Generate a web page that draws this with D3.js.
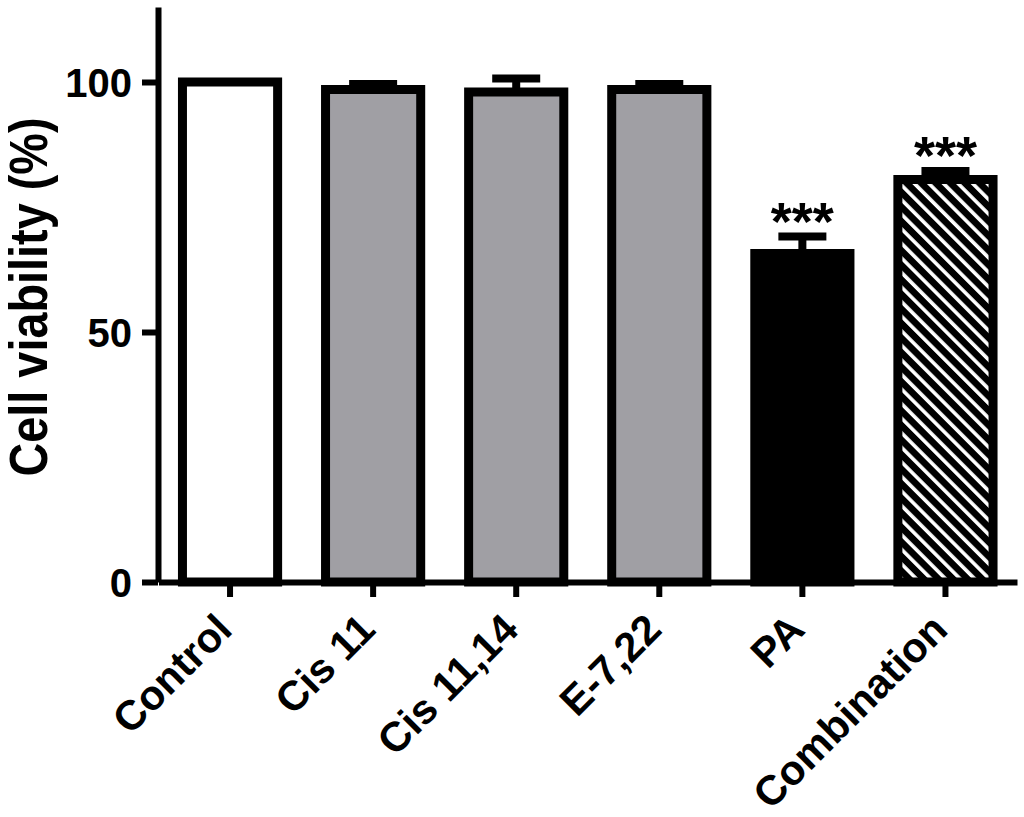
<!DOCTYPE html>
<html>
<head>
<meta charset="utf-8">
<script src="https://cdn.jsdelivr.net/npm/d3@7"></script>
<style>
  body { margin: 0; background: #fff; }
  text { font-family: Arial, "Liberation Sans", sans-serif; font-weight: bold; fill: #000; }
</style>
</head>
<body>
<div id="chart"></div>
<script>
'use strict';

// data
const categories = ["Control", "Cis 11", "Cis 11,14", "E-7,22", "PA", "Combination"];
const means = [100, 98.5, 98.0, 98.5, 65.7, 80.5];
const errors = [0, 1.1, 2.7, 1.1, 3.4, 1.7];
const stars = ["", "", "", "", "***", "***"];
const fills = ["white", "gray", "gray", "gray", "black", "hatch"];
const yTicks = [0, 50, 100];

const width = 1024, height = 817;
const barStroke = 9;

const svg = d3.select("#chart")
	.append("svg")
		.attr("width", width)
		.attr("height", height);

svg.append("rect")
	.attr("width", width)
	.attr("height", height)
	.attr("fill", "#fff");

// diagonal hatch for the combination bar
const defs = svg.append("defs");
const pat = defs.append("pattern")
	.attr("id", "hatch")
	.attr("patternUnits", "userSpaceOnUse")
	.attr("width", 10.3)
	.attr("height", 10.3)
	.attr("patternTransform", "rotate(-45)");
pat.append("rect")
	.attr("width", 10.3)
	.attr("height", 10.3)
	.attr("fill", "#000");
pat.append("rect")
	.attr("width", 3.6)
	.attr("height", 10.3)
	.attr("fill", "#fff");

const fillColor = {
	white: "#fff",
	gray: "#a09fa4",
	black: "#000",
	hatch: "url(#hatch)"
};

const x = d3.scaleBand()
	.domain(categories)
	.range([158.5, 1017])
	.paddingInner(0.272)
	.paddingOuter(0.136);

const y = d3.scaleLinear()
	.domain([0, 115])
	.range([582, 7]);

const rows = categories.map((c, i) => ({
	name: c, mean: means[i], err: errors[i], star: stars[i], fill: fills[i]
}));

// error bars (upper only)
const eb = svg.append("g");
const withErr = rows.filter(d => d.err > 0);
eb.selectAll("line.stem")
	.data(withErr)
	.join("line")
		.attr("class", "stem")
		.attr("x1", d => x(d.name) + x.bandwidth() / 2)
		.attr("x2", d => x(d.name) + x.bandwidth() / 2)
		.attr("y1", d => y(d.mean))
		.attr("y2", d => y(d.mean + d.err))
		.attr("stroke", "#000")
		.attr("stroke-width", 8);
eb.selectAll("line.cap")
	.data(withErr)
	.join("line")
		.attr("class", "cap")
		.attr("x1", d => x(d.name) + x.bandwidth() / 2 - 24)
		.attr("x2", d => x(d.name) + x.bandwidth() / 2 + 24)
		.attr("y1", d => y(d.mean + d.err))
		.attr("y2", d => y(d.mean + d.err))
		.attr("stroke", "#000")
		.attr("stroke-width", 8);

// bars
svg.append("g")
	.selectAll("rect")
	.data(rows)
	.join("rect")
		.attr("x", d => x(d.name) + barStroke / 2)
		.attr("width", x.bandwidth() - barStroke)
		.attr("y", d => y(d.mean))
		.attr("height", d => y(0) - y(d.mean))
		.attr("fill", d => fillColor[d.fill])
		.attr("stroke", "#000")
		.attr("stroke-width", barStroke);

// significance stars
svg.append("g")
	.selectAll("text")
	.data(rows.filter(d => d.star))
	.join("text")
		.attr("x", d => x(d.name) + x.bandwidth() / 2)
		.attr("y", d => y(d.mean + d.err) + 3)
		.attr("text-anchor", "middle")
		.style("font-size", "54px")
		.text(d => d.star);

// axes
const xAxis = svg.append("g")
	.attr("transform", `translate(0,${y(0)})`)
	.call(d3.axisBottom(x).tickSize(15).tickSizeOuter(0));

xAxis.selectAll("text")
	.attr("x", 6)
	.attr("y", 0)
	.attr("dy", 0)
	.attr("text-anchor", "end")
	.attr("transform", "translate(0,54) rotate(-45)")
	.style("font-size", "41.5px");

const yAxis = svg.append("g")
	.attr("transform", "translate(158,0)")
	.call(d3.axisLeft(y).tickValues(yTicks).tickSize(16).tickSizeOuter(0).tickPadding(10));

yAxis.selectAll("text")
	.attr("dy", "0.36em")
	.style("font-size", "40px");

svg.selectAll(".domain, .tick line")
	.attr("stroke", "#000")
	.attr("stroke-width", 6);

svg.append("text")
	.attr("transform", `translate(47,297) rotate(-90)`)
	.attr("text-anchor", "middle")
	.attr("textLength", 359)
	.attr("lengthAdjust", "spacingAndGlyphs")
	.style("font-size", "53px")
	.text("Cell viability (%)");
</script>
</body>
</html>
